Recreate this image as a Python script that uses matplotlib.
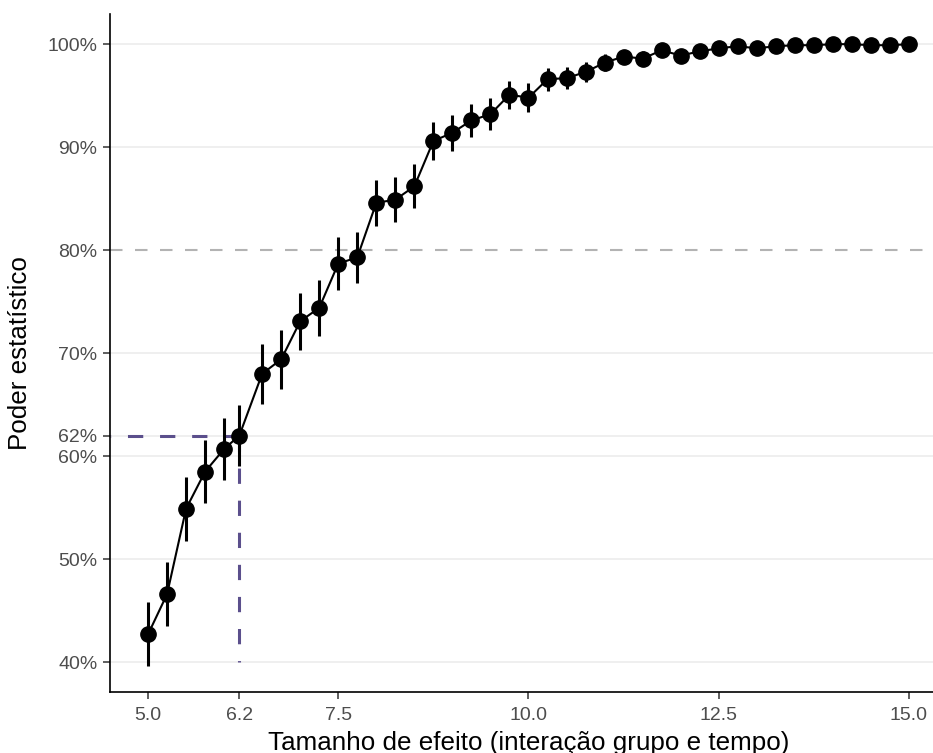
import numpy as np
import matplotlib.pyplot as plt

# tamanho de efeito (interação grupo e tempo)
efeito = [5.0, 5.25, 5.5, 5.75, 6.0, 6.2, 6.5, 6.75, 7.0, 7.25, 7.5, 7.75, 8.0, 8.25,
          8.5, 8.75, 9.0, 9.25, 9.5, 9.75, 10.0, 10.25, 10.5, 10.75, 11.0, 11.25,
          11.5, 11.75, 12.0, 12.25, 12.5, 12.75, 13.0, 13.25, 13.5, 13.75, 14.0,
          14.25, 14.5, 14.75, 15.0]
# poder estatístico (%)
poder = [42.7, 46.6, 54.9, 58.5, 60.7, 62.0, 68.0, 69.4, 73.1, 74.4, 78.7, 79.3, 84.6, 84.9,
         86.2, 90.6, 91.4, 92.6, 93.2, 95.1, 94.8, 96.6, 96.7, 97.3, 98.2, 98.8,
         98.6, 99.4, 98.9, 99.3, 99.6, 99.8, 99.6, 99.8, 99.9, 99.9, 100.0,
         100.0, 99.9, 99.9, 100.0]
# meia largura do intervalo (%)
erro = [3.1, 3.1, 3.1, 3.05, 3.0, 3.0, 2.9, 2.85, 2.75, 2.7, 2.55, 2.5, 2.25, 2.2,
        2.15, 1.8, 1.75, 1.6, 1.55, 1.35, 1.4, 1.1, 1.1, 1.0, 0.8, 0.65,
        0.75, 0.45, 0.65, 0.5, 0.35, 0.3, 0.35, 0.3, 0.2, 0.2, 0.0,
        0.0, 0.2, 0.2, 0.0]

alvo_x, alvo_y = 6.2, 62
y_ticks = [40, 50, 60, 62, 70, 80, 90, 100]
x_ticks = [5.0, 6.2, 7.5, 10.0, 12.5, 15.0]

plt.rcParams['font.family'] = ['Liberation Sans', 'DejaVu Sans']

fig = plt.figure(figsize=(9.33, 7.53), dpi=100)
# o painel continua um pouco além da borda direita
ax = fig.add_axes([0.1179, 0.081, 0.8971, 0.900])

xmin, xmax = 4.5, 15.5
ymin, ymax = 37.1, 102.9

for yv in y_ticks:
    if yv != 80:
        ax.axhline(yv, color='#EBEBEB', linewidth=1.1, zorder=0)
ax.axhline(80, color='#B3B3B3', linewidth=1.5, linestyle=(0, (6, 6)), zorder=1)

# linhas de referência
ax.plot([alvo_x, xmin], [alvo_y, alvo_y], color='#5B4F8C', linewidth=2.2,
        linestyle=(0, (5, 5.5)), zorder=2)
ax.plot([alvo_x, alvo_x], [alvo_y, 40], color='#5B4F8C', linewidth=2.2,
        linestyle=(0, (5, 5.5)), zorder=2)

ax.errorbar(efeito, poder, yerr=erro, fmt='none', ecolor='black', elinewidth=2.2,
            capsize=0, zorder=3)
ax.plot(efeito, poder, color='black', linewidth=1.5, zorder=4)
ax.plot(efeito, poder, 'o', color='black', markersize=11, zorder=5)

ax.set_xlim(xmin, xmax)
ax.set_ylim(ymin, ymax)
ax.set_xticks(x_ticks)
ax.set_xticklabels([f'{v:.1f}' for v in x_ticks])
ax.set_yticks(y_ticks)
ax.set_yticklabels([f'{v}%' for v in y_ticks])

ax.tick_params(colors='#333333', labelcolor='#4D4D4D', labelsize=14, length=5,
               width=1.1)
ax.tick_params(axis='x', pad=6)
ax.tick_params(axis='y', pad=4)
for s in ['top', 'right']:
    ax.spines[s].set_visible(False)
for s in ['left', 'bottom']:
    ax.spines[s].set_linewidth(1.2)

ax.set_xlabel('Tamanho de efeito (interação grupo e tempo)', fontsize=18.7)
ax.set_ylabel('Poder estatístico', fontsize=18.7)
ax.xaxis.set_label_coords(0.5, -0.057)
ax.yaxis.set_label_coords(-0.093, 0.5)

fig.savefig('out.png', dpi=100)
